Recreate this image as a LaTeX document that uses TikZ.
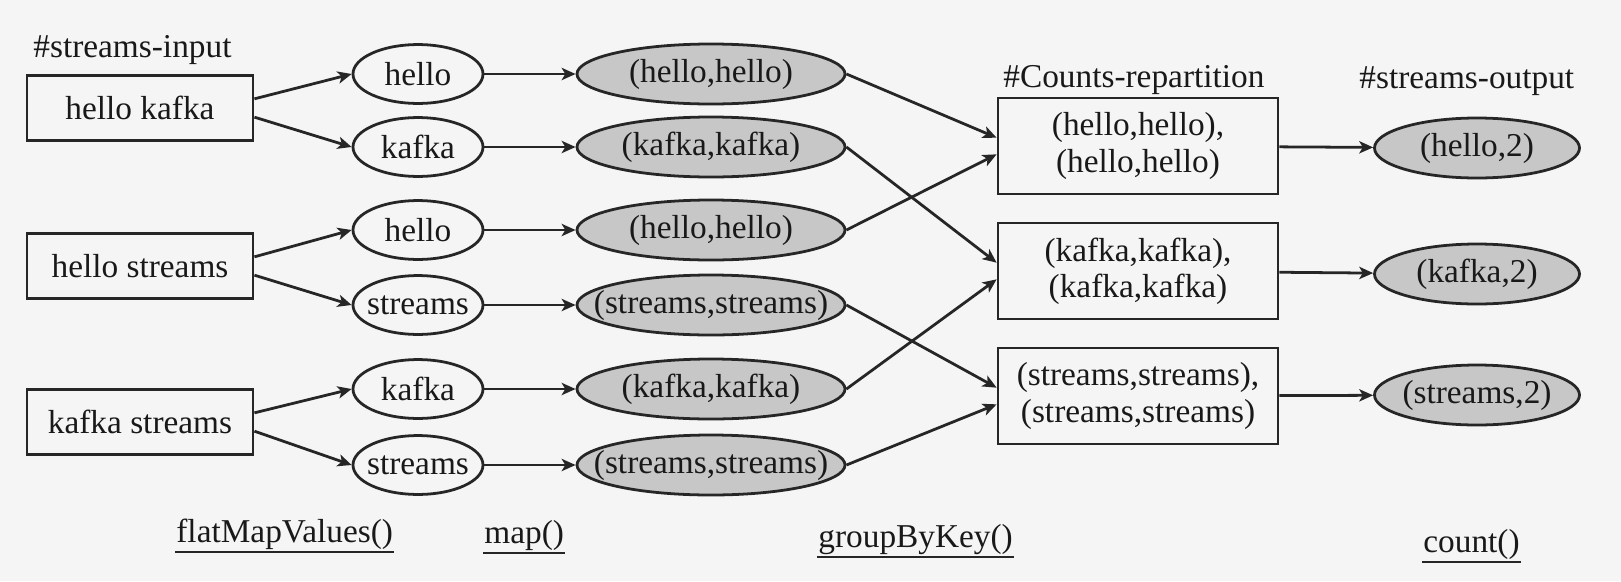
\documentclass[tikz,border=0pt]{standalone}
\usepackage{fontspec}
\setmainfont{Liberation Serif}
\usetikzlibrary{shapes.geometric,arrows.meta}
\tikzset{
  inbox/.style={draw,rectangle,minimum width=81.4pt,minimum height=23.4pt},
  wordnode/.style={draw,ellipse,inner xsep=-3pt,inner ysep=0pt,minimum width=46.8pt,minimum height=21.2pt},
  pairnode/.style={draw,ellipse,fill=black!22,inner xsep=-10pt,inner ysep=0pt,minimum width=96.5pt,minimum height=21.6pt},
  grpbox/.style={draw,rectangle,align=center,minimum width=100.8pt,minimum height=34.6pt},
  cntnode/.style={draw,ellipse,fill=black!22,inner xsep=-3pt,inner ysep=0pt,minimum width=73.8pt,minimum height=21.6pt},
  topic/.style={anchor=base west,inner sep=0pt},
  opname/.style={anchor=base west,inner sep=0pt}
}
\begin{document}
\begin{tikzpicture}[x=0.36pt,y=-0.36pt,>={Stealth[length=5pt,width=4.4pt,inset=1.3pt]},
  line width=1pt,draw=black!85,text=black!90,font=\fontsize{12}{13}\selectfont]
  \path[fill=black!4,use as bounding box] (0,0) rectangle (1621,581);

  \node[topic] (tin) at (32,57) {\#streams-input};
  \node[topic] (trp) at (1002,87) {\#Counts-repartition};
  \node[topic] (tout) at (1358,88) {\#streams-output};

  \node[inbox] (hk) at (140,108) {hello kafka};
  \node[inbox] (hs) at (140,266) {hello streams};
  \node[inbox] (ks) at (140,422) {kafka streams};

  \node[wordnode] (w1) at (418,74) {hello};
  \node[wordnode] (w2) at (418,147) {kafka};
  \node[wordnode] (w3) at (418,230) {hello};
  \node[wordnode] (w4) at (418,305) {streams};
  \node[wordnode] (w5) at (418,389) {kafka};
  \node[wordnode] (w6) at (418,465) {streams};

  \node[pairnode] (p1) at (711,74) {(hello,hello)};
  \node[pairnode] (p2) at (711,147) {(kafka,kafka)};
  \node[pairnode] (p3) at (711,230) {(hello,hello)};
  \node[pairnode] (p4) at (711,305) {(streams,streams)};
  \node[pairnode] (p5) at (711,389) {(kafka,kafka)};
  \node[pairnode] (p6) at (711,465) {(streams,streams)};

  \node[grpbox] (g1) at (1138,146) {(hello,hello),\\(hello,hello)};
  \node[grpbox] (g2) at (1138,271) {(kafka,kafka),\\(kafka,kafka)};
  \node[grpbox] (g3) at (1138,396) {(streams,streams),\\(streams,streams)};

  \node[cntnode] (c1) at (1477,148) {(hello,2)};
  \node[cntnode] (c2) at (1477,274) {(kafka,2)};
  \node[cntnode] (c3) at (1477,395) {(streams,2)};

  \node[opname] (fm) at (175,542) {flatMapValues()};
  \node[opname] (mp) at (483,543) {map()};
  \node[opname] (gb) at (817,547) {groupByKey()};
  \node[opname] (ct) at (1422,552) {count()};
  \foreach \n in {fm,mp,gb,ct}
    \draw ([yshift=-3.6pt]\n.base west) -- ([yshift=-3.6pt]\n.base east);

  % split lines into words
  \draw[->] ([yshift=3.3pt]hk.east) -- (w1.west);
  \draw[->] ([yshift=-3.3pt]hk.east) -- (w2.west);
  \draw[->] ([yshift=3.3pt]hs.east) -- (w3.west);
  \draw[->] ([yshift=-3.3pt]hs.east) -- (w4.west);
  \draw[->] ([yshift=3.3pt]ks.east) -- (w5.west);
  \draw[->] ([yshift=-3.3pt]ks.east) -- (w6.west);

  \foreach \i in {1,...,6} \draw[->] (w\i) -- (p\i);

  % group by key
  \draw[->] (p1.east) -- ([yshift=3pt]g1.west);
  \draw[->] (p3.east) -- ([yshift=-3pt]g1.west);
  \draw[->] (p2.east) -- ([yshift=3pt]g2.west);
  \draw[->] (p5.east) -- ([yshift=-3pt]g2.west);
  \draw[->] (p4.east) -- ([yshift=3pt]g3.west);
  \draw[->] (p6.east) -- ([yshift=-3pt]g3.west);

  \foreach \i in {1,2,3} \draw[->] (g\i) -- (c\i);
\end{tikzpicture}
\end{document}
